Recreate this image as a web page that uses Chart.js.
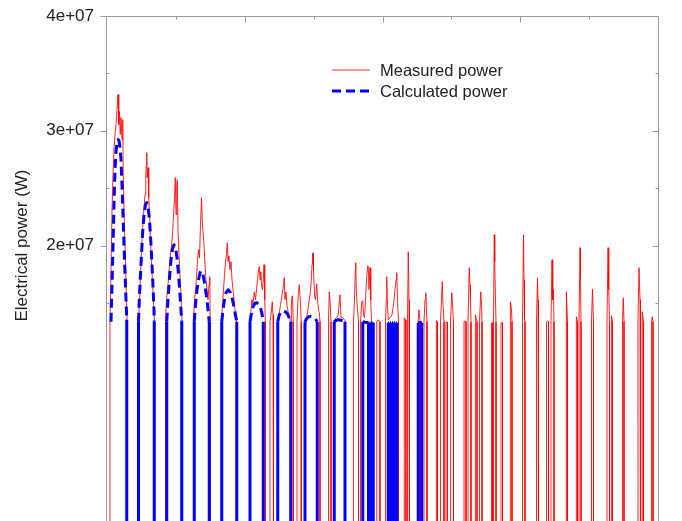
<!DOCTYPE html>
<html>
<head>
<meta charset="utf-8">
<script src="https://cdn.jsdelivr.net/npm/chart.js@4.4.1/dist/chart.umd.min.js"></script>
<style>
  html, body { margin: 0; padding: 0; background: #fff; overflow: hidden; }
</style>
</head>
<body>
<canvas id="power-chart" width="682" height="521"></canvas>
<script>
// Time axis in seconds, power kept in MW here (converted to W when the datasets are built)
const TIME_MAX = 4408;
const X_TICKS = [0, 551, 1102, 1653, 2204, 2755, 3306, 3857, 4408];
const X_MAJOR = [1102, 2204, 3306];
const Y_MIN = -4e6;
const Y_MAX = 4e7;
const Y_TICKS = [15e6, 20e6, 25e6, 30e6, 35e6, 40e6];
const Y_LABELED = [20e6, 30e6, 40e6];
const Y_TITLE = 'Electrical power (W)';
const OFF_POWER = -10; // MW, level between runs (below the visible range)

// each run: [time (s), power (MW)]
const measuredPulses = [
    [[24,13.36],[32,17.89],[40,23.13],[48,26.18],[56,28.36],[64,29.67],[72,30.54],[80,31.85],[88,33.15],[94,30.54],[100,31.67],[106,29.67],[112,31.15],[120,29.23],[126,30.97],[130,26.18],[136,23.13],[144,20.07],[152,17.02],[160,13.53]],
    [[252,13.36],[264,16.15],[272,18.59],[280,20.51],[288,22.08],[296,23.30],[304,24.43],[310,25.74],[314,27.05],[318,28.10],[322,25.92],[328,26.79],[334,24.17],[340,22.69],[348,20.51],[356,18.59],[364,16.85],[372,14.84],[380,13.36]],
    [[468,13.36],[476,15.28],[488,16.58],[500,18.33],[512,19.64],[524,20.94],[532,22.69],[540,24.00],[546,25.92],[552,22.69],[558,25.31],[562,25.74],[568,21.38],[576,19.20],[584,17.46],[592,15.71],[600,13.36]],
    [[692,13.36],[700,15.28],[712,16.58],[724,18.59],[732,19.64],[740,18.94],[748,21.82],[756,24.17],[762,22.25],[768,21.21],[776,20.07],[784,18.33],[792,17.02],[800,16.15],[808,15.28],[816,16.58],[822,17.28],[826,13.36]],
    [[916,13.36],[924,14.84],[932,16.15],[940,17.46],[948,18.59],[956,19.20],[962,20.25],[968,18.59],[976,19.11],[984,17.89],[992,18.59],[1000,17.02],[1008,16.15],[1016,15.28],[1024,14.41],[1036,13.36]],
    [[1144,13.36],[1152,14.41],[1160,15.28],[1168,14.84],[1178,15.97],[1188,15.28],[1196,16.15],[1204,17.02],[1212,17.89],[1218,18.15],[1224,17.02],[1230,17.72],[1236,16.58],[1244,16.15],[1250,17.02],[1256,18.33],[1262,15.28],[1266,13.36]],
    [[1304,13.36],[1312,13.97],[1322,15.10],[1328,13.97],[1332,13.36]],
    [[1364,13.36],[1376,13.97],[1388,14.84],[1398,15.54],[1406,16.15],[1412,16.58],[1418,17.19],[1424,15.28],[1432,15.97],[1440,14.84],[1448,14.23],[1460,13.71],[1468,13.36]],
    [[1472,13.36],[1478,15.28],[1484,15.63],[1490,13.36]],
    [[1520,13.36],[1530,15.71],[1538,16.58],[1546,15.28],[1554,13.36]],
    [[1584,13.36],[1596,13.71],[1608,14.41],[1616,15.10],[1624,15.71],[1632,16.58],[1640,18.33],[1644,19.29],[1648,19.36],[1652,17.89],[1660,15.71],[1668,15.28],[1678,16.67],[1684,15.28],[1692,14.41],[1698,14.14],[1704,13.36]],
    [[1772,13.36],[1778,15.97],[1784,15.28],[1792,13.36]],
    [[1816,13.36],[1832,13.71],[1848,13.88],[1864,15.71],[1872,13.71],[1888,13.71],[1908,13.36]],
    [[1972,13.36],[1980,15.28],[1986,17.89],[1990,18.50],[1994,16.15],[2004,14.41],[2012,13.36]],
    [[2028,13.36],[2038,15.10],[2046,15.19],[2052,13.97],[2060,13.71],[2068,15.28],[2076,17.02],[2086,18.24],[2090,18.15],[2096,16.15],[2104,18.07],[2110,15.28],[2116,13.36]],
    [[2158,13.36],[2168,13.53],[2184,13.36]],
    [[2228,13.36],[2234,15.28],[2238,17.28],[2242,15.28],[2250,13.53],[2264,13.71],[2280,13.97],[2292,14.84],[2304,16.15],[2312,17.02],[2318,17.63],[2324,15.28],[2332,13.36]],
    [[2376,13.36],[2380,13.71],[2388,13.53],[2392,13.36]],
    [[2404,13.36],[2410,19.46],[2416,15.28],[2420,13.36]],
    [[2488,13.36],[2496,14.41],[2504,13.36]],
    [[2536,13.36],[2544,15.28],[2550,15.89],[2556,14.41],[2560,13.36]],
    [[2632,13.36],[2638,13.44],[2644,13.36]],
    [[2668,13.36],[2676,15.28],[2682,16.85],[2688,14.84],[2696,13.36]],
    [[2712,13.31],[2724,13.31]],
    [[2748,13.36],[2758,15.89],[2764,14.84],[2772,13.36]],
    [[2856,13.36],[2864,13.44],[2872,13.36]],
    [[2888,13.36],[2898,18.07],[2904,16.58],[2908,15.28],[2912,13.36]],
    [[2944,13.36],[2950,13.97],[2960,13.36]],
    [[2980,13.36],[2990,15.97],[2996,14.84],[3000,13.36]],
    [[3076,13.27],[3084,13.27]],
    [[3092,13.36],[3098,20.94],[3102,18.59],[3108,15.28],[3112,13.36]],
    [[3152,13.27],[3164,13.27]],
    [[3224,13.36],[3230,15.10],[3236,14.41],[3240,13.36]],
    [[3324,13.36],[3332,20.94],[3336,17.02],[3340,13.53],[3344,13.36]],
    [[3436,13.36],[3444,17.19],[3448,15.28],[3452,13.36]],
    [[3516,13.36],[3524,13.44],[3532,13.36]],
    [[3552,13.36],[3560,18.76],[3566,15.28],[3572,16.15],[3576,13.36]],
    [[3672,13.36],[3678,15.97],[3684,13.36]],
    [[3752,13.36],[3758,13.79],[3764,13.36]],
    [[3776,13.36],[3784,19.81],[3788,17.46],[3792,13.36]],
    [[3876,13.36],[3884,16.19],[3892,13.36]],
    [[4000,13.36],[4008,19.81],[4014,16.15],[4020,13.36]],
    [[4032,13.36],[4038,13.88],[4044,13.36]],
    [[4124,13.36],[4130,15.45],[4136,13.36]],
    [[4248,13.36],[4256,18.07],[4264,15.28],[4268,13.36]],
    [[4280,13.36],[4284,14.23],[4292,13.36]],
    [[4356,13.36],[4362,13.79],[4368,13.36]]
];

const calculatedPulses = [
    [[32,13.36],[40,16.58],[48,19.90],[56,23.56],[64,26.61],[72,28.18],[80,28.97],[88,29.23],[96,29.14],[104,28.53],[112,27.49],[120,25.31],[128,22.69],[136,20.07],[144,17.63],[152,15.28],[158,13.53]],
    [[252,13.36],[260,15.71],[272,18.33],[284,20.94],[296,22.69],[308,23.56],[318,23.74],[328,23.47],[340,22.25],[352,20.07],[364,17.46],[376,14.41],[378,13.36]],
    [[478,13.36],[488,15.28],[500,17.19],[512,18.76],[524,19.72],[536,20.07],[548,19.81],[560,18.94],[572,17.46],[584,15.71],[598,13.36]],
    [[698,13.36],[708,14.84],[720,16.15],[732,17.02],[744,17.63],[752,17.80],[764,17.63],[776,17.02],[788,16.15],[800,15.28],[818,13.36]],
    [[918,13.36],[928,14.41],[940,15.28],[952,15.89],[970,16.15],[988,15.89],[1004,15.28],[1020,14.41],[1038,13.36]],
    [[1144,13.36],[1156,14.14],[1168,14.67],[1184,14.97],[1198,15.01],[1212,14.93],[1228,14.58],[1240,14.06],[1250,13.36]],
    [[1366,13.36],[1376,13.88],[1392,14.23],[1410,14.32],[1428,14.23],[1448,13.97],[1470,13.36]],
    [[1584,13.36],[1596,13.62],[1612,13.79],[1630,13.82],[1648,13.79],[1668,13.62],[1682,13.36]],
    [[1818,13.36],[1832,13.49],[1850,13.53],[1872,13.49],[1904,13.36]],
    [[2046,13.36],[2064,13.31],[2078,13.30],[2092,13.27]],
    [[2100,13.27],[2106,13.27]],
    [[2112,13.27],[2118,13.27]],
    [[2124,13.27],[2130,13.27]],
    [[2250,13.27],[2256,13.27]],
    [[2264,13.27],[2272,13.27]],
    [[2280,13.27],[2288,13.27]],
    [[2296,13.27],[2304,13.27]],
    [[2312,13.27],[2318,13.27]],
    [[2490,13.27],[2504,13.30],[2518,13.27]]
];

const FONT = '"Liberation Sans", Arial, Helvetica, sans-serif';
const OFF_W = OFF_POWER * 1e6;

// Turn runs into one line, dropping to the off level between runs
function buildSeries(pulses, leadIn) {
    const pts = [];
    pulses.forEach((pulse, i) => {
        const first = pulse[0];
        const last = pulse[pulse.length - 1];
        if (i > 0 || leadIn) pts.push({ x: first[0], y: OFF_W });
        pulse.forEach(p => pts.push({ x: p[0], y: p[1] * 1e6 }));
        pts.push({ x: last[0], y: OFF_W });
    });
    return pts;
}

function formatPower(v) {
    return v.toExponential().replace(/e\+(\d)$/, 'e+0$1');
}

// Plot frame with inward / outward tick marks
const framePlugin = {
    id: 'frame',
    afterDraw(chart) {
        const { ctx, chartArea: a, scales: { x, y } } = chart;
        const left = a.left - 0.5, right = a.right + 0.5, top = a.top + 0.5, bottom = chart.height;
        ctx.save();
        ctx.strokeStyle = '#9a9a9a';
        ctx.lineWidth = 1;
        ctx.beginPath();
        ctx.moveTo(left, bottom);
        ctx.lineTo(left, top);
        ctx.lineTo(right, top);
        ctx.lineTo(right, bottom);
        X_TICKS.slice(1, -1).forEach(t => {
            const px = Math.round(x.getPixelForValue(t)) + 0.5;
            const len = X_MAJOR.includes(t) ? 6 : 3;
            ctx.moveTo(px, top);
            ctx.lineTo(px, top + len);
        });
        Y_TICKS.forEach(v => {
            const py = Math.round(y.getPixelForValue(v)) + 0.5;
            if (Y_LABELED.includes(v)) {
                ctx.moveTo(left - 6, py); ctx.lineTo(left, py);
                ctx.moveTo(right - 6, py); ctx.lineTo(right, py);
            } else {
                ctx.moveTo(left, py); ctx.lineTo(left + 3, py);
                ctx.moveTo(right - 3, py); ctx.lineTo(right, py);
            }
        });
        ctx.stroke();
        ctx.restore();
    }
};

// Legend drawn inside the plot, two rows
const legendPlugin = {
    id: 'insetLegend',
    afterDraw(chart) {
        const ctx = chart.ctx;
        ctx.save();
        ctx.font = '16.5px ' + FONT;
        ctx.textBaseline = 'middle';
        chart.data.datasets.forEach((ds, i) => {
            const yy = 70 + i * 21;
            ctx.strokeStyle = ds.borderColor;
            ctx.lineWidth = ds.borderWidth;
            ctx.setLineDash(ds.borderDash || []);
            ctx.beginPath();
            ctx.moveTo(332, yy);
            ctx.lineTo(370, yy);
            ctx.stroke();
            ctx.fillStyle = '#222';
            ctx.fillText(ds.label, 380, yy + 1);
        });
        ctx.restore();
    }
};

// Rotated y title, centred on the 0 .. 4e7 span
const yTitlePlugin = {
    id: 'yTitle',
    afterDraw(chart) {
        const { ctx, scales: { y } } = chart;
        const mid = (y.getPixelForValue(0) + y.getPixelForValue(Y_MAX)) / 2;
        ctx.save();
        ctx.translate(22, mid);
        ctx.rotate(-Math.PI / 2);
        ctx.font = '17px ' + FONT;
        ctx.fillStyle = '#222';
        ctx.textAlign = 'center';
        ctx.textBaseline = 'middle';
        ctx.fillText(Y_TITLE, 0, 0);
        ctx.restore();
    }
};

const isStep = c => c.p0.parsed.y === OFF_W || c.p1.parsed.y === OFF_W;

const ctx = document.getElementById('power-chart').getContext('2d');
const chart = new Chart(ctx, {
    type: 'line',
    data: {
        datasets: [
            {
                label: 'Measured power',
                data: buildSeries(measuredPulses, true),
                borderColor: 'rgba(255, 0, 0, 0.85)',
                borderWidth: 1,
                borderJoinStyle: 'round',
                pointRadius: 0,
                tension: 0,
                order: 2
            },
            {
                label: 'Calculated power',
                data: buildSeries(calculatedPulses, false),
                borderColor: '#0000ff',
                borderWidth: 3,
                borderDash: [9, 5],
                borderJoinStyle: 'round',
                pointRadius: 0,
                tension: 0,
                order: 1,
                segment: {
                    borderDash: c => isStep(c) ? [] : [9, 5]
                }
            }
        ]
    },
    options: {
        responsive: false,
        animation: false,
        layout: { padding: { top: 16, right: 24, bottom: 0, left: 0 } },
        plugins: {
            legend: { display: false },
            tooltip: { enabled: false }
        },
        scales: {
            x: {
                type: 'linear',
                min: 0,
                max: TIME_MAX,
                ticks: { display: false },
                grid: { display: false, drawTicks: false },
                border: { display: false },
                afterFit: s => {
                    s.height = 0;
                    s.paddingLeft = 0;
                    s.paddingRight = 0;
                }
            },
            y: {
                type: 'linear',
                min: Y_MIN,
                max: Y_MAX,
                afterBuildTicks: s => { s.ticks = Y_TICKS.map(v => ({ value: v })); },
                afterFit: s => {
                    s.width = 107;
                    s.paddingTop = 0;
                    s.paddingBottom = 0;
                },
                grid: { display: false, drawTicks: false },
                border: { display: false },
                ticks: {
                    padding: 13,
                    autoSkip: false,
                    color: '#222',
                    font: { family: FONT, size: 17 },
                    callback: v => Y_LABELED.includes(v) ? formatPower(v) : ''
                }
            }
        }
    },
    plugins: [framePlugin, legendPlugin, yTitlePlugin]
});
</script>
</body>
</html>
